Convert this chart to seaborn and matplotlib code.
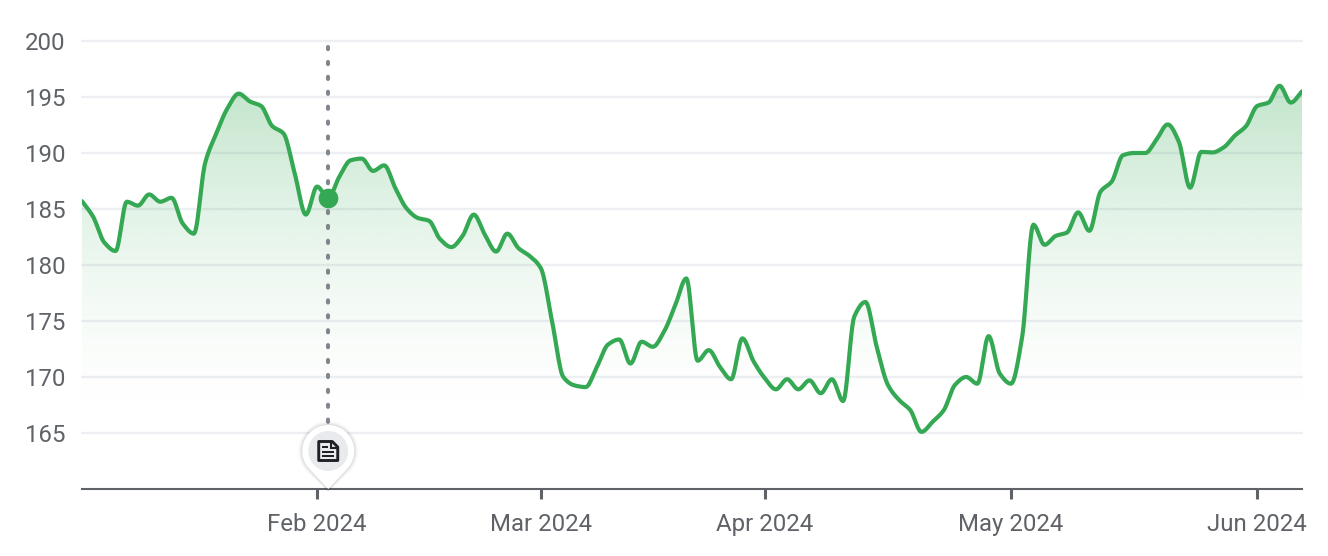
import matplotlib
matplotlib.use('Agg')
import matplotlib.pyplot as plt
import matplotlib.patches as mpatches
from matplotlib.colors import to_rgb
from matplotlib.transforms import Affine2D
import numpy as np
import pandas as pd
import seaborn as sns

# one close per trading day, Jan 2024 to early Jun 2024
closes = [
    185.7, 184.3, 182.0, 181.25, 185.65, 185.3, 186.3, 185.65, 186.0, 183.7,
    182.8, 189.1, 191.75, 194.0, 195.3, 194.6, 194.2, 192.4, 191.75, 188.2,
    184.5, 187.0, 186.0, 187.9, 189.35, 189.5, 188.4, 188.9, 186.85, 185.05,
    184.2, 183.95, 182.3, 181.6, 182.6, 184.5, 182.7, 181.2, 182.8, 181.5,
    180.8, 179.7, 174.95, 170.0, 169.25, 169.1, 170.9, 172.9, 173.35, 171.2,
    173.15, 172.7, 174.05, 176.4, 178.8, 171.45, 172.4, 170.9, 169.8, 173.45,
    171.4, 169.9, 168.9, 169.8, 168.9, 169.7, 168.55, 169.8, 167.85, 175.4,
    176.7, 172.7, 169.3, 167.95, 167.05, 165.1, 166.0, 167.05, 169.3, 170.0,
    169.4, 173.65, 170.3, 169.4, 173.6, 183.6, 181.8, 182.6, 182.9, 184.7,
    183.05, 186.55, 187.45, 189.8, 190.0, 190.0, 191.2, 192.55, 191.0, 186.9,
    190.1, 190.05, 190.5, 191.55, 192.4, 194.2, 194.5, 196.0, 194.5, 195.5,
]
month_ticks = [21, 41, 61, 83, 105]
month_labels = ['Feb 2024', 'Mar 2024', 'Apr 2024', 'May 2024', 'Jun 2024']
price_ticks = [165, 170, 175, 180, 185, 190, 195, 200]
event_day = 22

GREEN = '#34a853'
TEXT = '#5f6368'
GRID = '#eeeff3'


def monotone_curve(y, steps=12):
    # monotone cubic through the daily closes, same look as the web chart
    y = np.asarray(y, dtype=float)
    d = np.diff(y)
    m = np.zeros(len(y))
    for i in range(1, len(y) - 1):
        if d[i - 1] * d[i] > 0:
            m[i] = 2 * d[i - 1] * d[i] / (d[i - 1] + d[i])
    m[0], m[-1] = d[0], d[-1]
    t = np.linspace(0, 1, steps, endpoint=False)
    xs, ys = [], []
    for i in range(len(y) - 1):
        h00 = 2 * t**3 - 3 * t**2 + 1
        h10 = t**3 - 2 * t**2 + t
        h01 = -2 * t**3 + 3 * t**2
        h11 = t**3 - t**2
        xs.append(i + t)
        ys.append(h00 * y[i] + h10 * m[i] + h01 * y[i + 1] + h11 * m[i + 1])
    return np.append(np.concatenate(xs), len(y) - 1), np.append(np.concatenate(ys), y[-1])


sns.set_theme(style='white')
plt.rcParams['font.family'] = ['Roboto', 'DejaVu Sans']

fig = plt.figure(figsize=(13.28, 5.56), dpi=100)
ax = fig.add_axes([82 / 1328, 67 / 556, 1220 / 1328, 448 / 556])

curve_x, curve_y = monotone_curve(closes)
df = pd.DataFrame({'day': curve_x, 'close': curve_y})

ax.set_xlim(0, len(closes) - 1)
ax.set_ylim(160, 200)

for p in price_ticks:
    ax.axhline(p, color=GRID, linewidth=1.7, zorder=1, clip_on=False)

# gradient under the line
r, g, b = to_rgb(GREEN)
grad = np.zeros((256, 2, 4))
grad[..., 0], grad[..., 1], grad[..., 2] = r, g, b
grad[..., 3] = (np.linspace(1, 0, 256) ** 1.6 * 0.30)[:, None]
top = max(closes)
im = ax.imshow(grad, extent=(0, len(closes) - 1, 166, top), origin='upper',
               aspect='auto', zorder=2, interpolation='bilinear')
poly = np.column_stack([
    np.concatenate([[0], curve_x, [len(closes) - 1]]),
    np.concatenate([[160], curve_y, [160]]),
])
im.set_clip_path(mpatches.Polygon(poly, closed=True, transform=ax.transData))
ax.set_xlim(0, len(closes) - 1)
ax.set_ylim(160, 200)

# event marker line
ax.plot([event_day, event_day], [199.5, 165.3], color='#80868b', linewidth=2.9,
        linestyle=(0, (0.55, 3.15)), dash_capstyle='round', zorder=3)

sns.lineplot(data=df, x='day', y='close', color=GREEN, linewidth=3.0, ax=ax,
             zorder=4, errorbar=None, estimator=None)
sns.scatterplot(x=[event_day], y=[closes[event_day]], color=GREEN, s=200,
                linewidth=0, ax=ax, zorder=5)

ax.set_xlabel('')
ax.set_ylabel('')
ax.set_xticks(month_ticks)
ax.set_xticklabels(month_labels)
ax.set_yticks(price_ticks)
ax.tick_params(axis='x', length=7.5, width=2.2, color=TEXT, labelcolor=TEXT,
               labelsize=17.3, pad=10, bottom=True)
ax.tick_params(axis='y', length=0, labelcolor=TEXT, labelsize=17.3, pad=12)
for side in ['top', 'left', 'right']:
    ax.spines[side].set_visible(False)
ax.spines['bottom'].set_color(TEXT)
ax.spines['bottom'].set_linewidth(1.5)
ax.set_facecolor('white')

# news pin, drawn in pixels above the event day on the axis
ax_px = ax.transData.transform((event_day, 160))
pin_tf = Affine2D().scale(1, -1).translate(ax_px[0], ax_px[1])


def add_shape(patch, z=6):
    patch.set_transform(pin_tf)
    patch.set_clip_on(False)
    ax.add_artist(patch)
    patch.set_zorder(z)


def pin_outline(radius, tip):
    # circle around (0, -38) whose lower part runs into a point at the axis
    ang = np.radians(np.linspace(222, -42, 60))
    pts = np.column_stack([radius * np.cos(ang), -38 - radius * np.sin(ang)])
    return np.vstack([pts, [[0, tip]]])


for grow, alpha in [(4, 0.02), (3, 0.025), (2, 0.035), (1, 0.05)]:
    add_shape(mpatches.Polygon(pin_outline(26 + grow, 1 + grow * 0.6), closed=True,
                               facecolor='black', edgecolor='none', alpha=alpha))
add_shape(mpatches.Polygon(pin_outline(26, 0), closed=True, facecolor='white', edgecolor='none'))
add_shape(mpatches.Circle((0, -38), 20, facecolor='#e8eaed', edgecolor='none'))

# document icon
doc_verts = [(-9.5, -47.5), (4, -47.5), (9.5, -42), (9.5, -28.5), (-9.5, -28.5)]
add_shape(mpatches.Polygon(doc_verts, closed=True, facecolor='#e8eaed', edgecolor='#202124',
                           linewidth=2.1, joinstyle='round'))
add_shape(mpatches.Polygon([(2.5, -47), (2.5, -40.5), (9, -40.5)], closed=False, fill=False,
                           edgecolor='#202124', linewidth=1.5))
for x0, x1, y0 in [(-6, 0, -42.5), (-6, 6, -38), (-6, 6, -33.5)]:
    add_shape(mpatches.Rectangle((x0, y0), x1 - x0, 1.8, facecolor='#202124', edgecolor='none'))

fig.savefig('out.png', dpi=100, facecolor='white')
